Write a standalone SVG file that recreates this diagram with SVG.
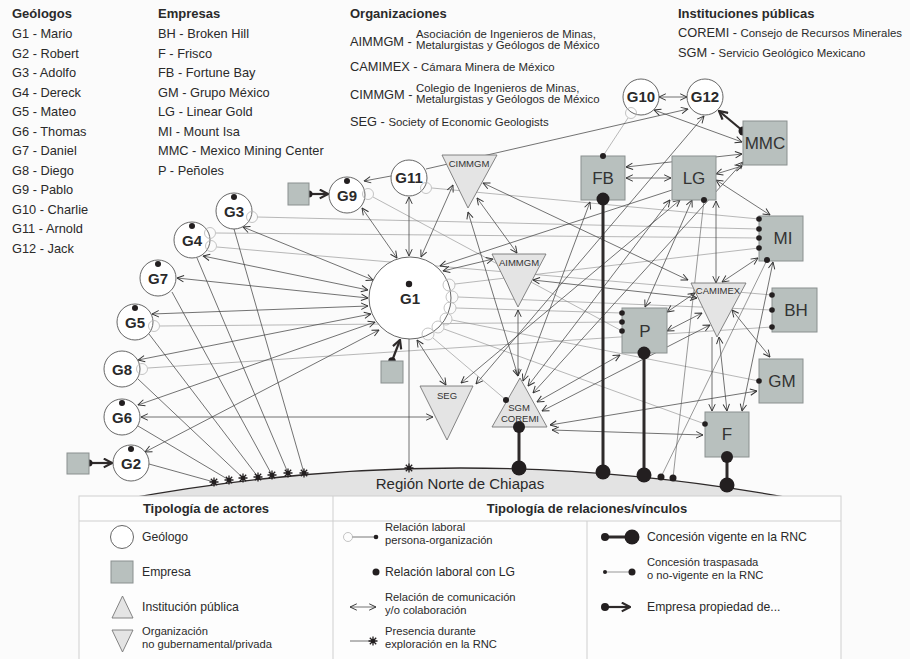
<svg xmlns="http://www.w3.org/2000/svg" width="910" height="659" viewBox="0 0 910 659">
<defs>
<style>
text{font-family:"Liberation Sans",Arial,sans-serif;fill:#2a2a2a}
.h{font-weight:bold;font-size:13px}
.li{font-size:12.8px}
.sm{font-size:11.4px}
.gc{fill:#fff;stroke:#555;stroke-width:.9}
.gl{font-weight:bold;font-size:15px;text-anchor:middle}
.co{fill:#b8c0be;stroke:#8a908f;stroke-width:1}
.cl{font-size:17px;text-anchor:middle;fill:#333}
.tr{fill:#e4e4e4;stroke:#777;stroke-width:.9}
.tl{font-size:9.5px;text-anchor:middle;fill:#333}
.d{fill:#231f20}
.e{fill:none;stroke:#b5b5b5;stroke-width:.8}
.c{stroke:#444;stroke-width:.75;fill:none;marker-start:url(#a);marker-end:url(#a)}
.c1{stroke:#444;stroke-width:.75;fill:none;marker-end:url(#a)}
.c0{stroke:#444;stroke-width:.75;fill:none;marker-start:url(#a)}
.w{stroke:#8a8a8a;stroke-width:.6;fill:none}
.s{stroke:#444;stroke-width:.75;fill:none}
.t{stroke:#2e2a2a;stroke-width:3;fill:none}
.tn{stroke:#555;stroke-width:.6;fill:none}
.o{stroke:#2e2a2a;stroke-width:2.2;fill:none;marker-end:url(#b)}
.lg{font-size:12.2px}
.l2{font-size:11.2px}
</style>
<marker id="a" viewBox="0 0 10 10" refX="9.5" refY="5" markerWidth="8" markerHeight="8" markerUnits="userSpaceOnUse" orient="auto-start-reverse"><path d="M1,1 L9.5,5 L1,9" fill="none" stroke="#333" stroke-width="1.2"/></marker>
<marker id="b" viewBox="0 0 10 10" refX="9" refY="5" markerWidth="11" markerHeight="11" markerUnits="userSpaceOnUse" orient="auto"><path d="M1.5,1 L9,5 L1.5,9" fill="none" stroke="#2e2a2a" stroke-width="2"/></marker>
<g id="star"><path d="M-4.5,0H4.5M0,-4.5V4.5M-3.2,-3.2L3.2,3.2M-3.2,3.2L3.2,-3.2" stroke="#231f20" stroke-width="1.3"/><circle r="2.2" fill="#231f20"/></g>
</defs>
<rect width="910" height="659" fill="#fbfbfb"/>

<g id="header">
<text class="h" x="12" y="18">Geólogos</text>
<text class="li" x="12" y="38">G1 - Mario</text>
<text class="li" x="12" y="57.5">G2 - Robert</text>
<text class="li" x="12" y="77">G3 - Adolfo</text>
<text class="li" x="12" y="96.5">G4 - Dereck</text>
<text class="li" x="12" y="116">G5 - Mateo</text>
<text class="li" x="12" y="135.5">G6 - Thomas</text>
<text class="li" x="12" y="155">G7 - Daniel</text>
<text class="li" x="12" y="174.5">G8 - Diego</text>
<text class="li" x="12" y="194">G9 - Pablo</text>
<text class="li" x="12" y="213.5">G10 - Charlie</text>
<text class="li" x="12" y="233">G11 - Arnold</text>
<text class="li" x="12" y="252.5">G12 - Jack</text>
<text class="h" x="158" y="18">Empresas</text>
<text class="li" x="158" y="38">BH - Broken Hill</text>
<text class="li" x="158" y="57.5">F - Frisco</text>
<text class="li" x="158" y="77">FB - Fortune Bay</text>
<text class="li" x="158" y="96.5">GM - Grupo México</text>
<text class="li" x="158" y="116">LG - Linear Gold</text>
<text class="li" x="158" y="135.5">MI - Mount Isa</text>
<text class="li" x="158" y="155">MMC - Mexico Mining Center</text>
<text class="li" x="158" y="174.5">P - Peñoles</text>
<text class="h" x="350" y="18">Organizaciones</text>
<text class="li" x="350" y="46">AIMMGM -</text>
<text class="sm" x="416" y="38">Asociación de Ingenieros de Minas,</text>
<text class="sm" x="416" y="49">Metalurgistas y Geólogos de México</text>
<text class="li" x="350" y="71">CAMIMEX - <tspan class="sm">Cámara Minera de México</tspan></text>
<text class="li" x="350" y="99">CIMMGM -</text>
<text class="sm" x="416" y="92">Colegio de Ingenieros de Minas,</text>
<text class="sm" x="416" y="103">Metalurgistas y Geólogos de México</text>
<text class="li" x="350" y="126">SEG - <tspan class="sm">Society of Economic Geologists</tspan></text>
<text class="h" x="678" y="18">Instituciones públicas</text>
<text class="li" x="678" y="37">COREMI - <tspan class="sm">Consejo de Recursos Minerales</tspan></text>
<text class="li" x="678" y="57">SGM - <tspan class="sm">Servicio Geológico Mexicano</tspan></text>
</g>

<g id="region">
<path d="M120,500 Q455,437 790,498 L790,500 Z" fill="#e3e3e3"/>
<path d="M120,500 Q455,437 790,498" fill="none" stroke="#2e2a2a" stroke-width="1.3"/>
<text x="460" y="489" font-size="15" text-anchor="middle" fill="#333">Región Norte de Chiapas</text>
</g>

<g id="connectors">
<line class="w" x1="257" y1="217" x2="759" y2="229"/>
<line class="w" x1="216" y1="233" x2="759" y2="238"/>
<line class="w" x1="217" y1="247" x2="772" y2="295"/>
<line class="w" x1="160" y1="326" x2="622" y2="322"/>
<line class="w" x1="148" y1="368" x2="772" y2="327"/>
<line class="w" x1="373" y1="197" x2="622" y2="331"/>
<line class="w" x1="432" y1="188" x2="759" y2="219"/>
<line class="w" x1="628" y1="118" x2="603" y2="156"/>
<line class="w" x1="455" y1="284" x2="759" y2="248"/>
<line class="w" x1="458" y1="297" x2="772" y2="310"/>
<line class="w" x1="456" y1="308" x2="622" y2="313"/>
<line class="w" x1="452" y1="320" x2="759" y2="381"/>
<line class="w" x1="444" y1="329" x2="705" y2="424"/>
<line class="w" x1="433" y1="338" x2="506" y2="400"/>
<line class="s" x1="234" y1="229" x2="304" y2="473"/>
<line class="s" x1="197" y1="258" x2="288" y2="473"/>
<line class="s" x1="172" y1="292" x2="272" y2="475"/>
<line class="s" x1="149" y1="334" x2="258" y2="477"/>
<line class="s" x1="138" y1="379" x2="243" y2="478"/>
<line class="s" x1="138" y1="426" x2="229" y2="480"/>
<line class="s" x1="149" y1="464" x2="214" y2="482"/>
<line class="s" x1="409" y1="339" x2="409" y2="468"/>
<line class="c" x1="243" y1="227" x2="373" y2="280"/>
<line class="c" x1="203" y1="256" x2="368" y2="290"/>
<line class="c" x1="177" y1="278" x2="368" y2="298"/>
<line class="c" x1="152" y1="314" x2="368" y2="306"/>
<line class="c" x1="138" y1="360" x2="371" y2="314"/>
<line class="c" x1="138" y1="405" x2="375" y2="322"/>
<line class="c" x1="145" y1="452" x2="379" y2="330"/>
<line class="c" x1="141" y1="417" x2="433" y2="417"/>
<line class="c" x1="362" y1="208" x2="397" y2="258"/>
<line class="c" x1="409" y1="197" x2="409" y2="256"/>
<line class="c" x1="421" y1="257" x2="453" y2="185"/>
<line class="c1" x1="391" y1="176" x2="364" y2="181"/>
<line class="c1" x1="426" y1="169" x2="688" y2="109"/>
<line class="c" x1="659" y1="97" x2="687" y2="97"/>
<line class="c" x1="654" y1="110" x2="742" y2="142"/>
<line class="c" x1="626" y1="167" x2="742" y2="154"/>
<line class="c" x1="716" y1="174" x2="742" y2="166"/>
<line class="c" x1="626" y1="178" x2="671" y2="178"/>
<line class="c" x1="716" y1="180" x2="770" y2="215"/>
<line class="c" x1="704" y1="116" x2="476" y2="384"/>
<line class="c" x1="477" y1="198" x2="517" y2="253"/>
<line class="c" x1="468" y1="212" x2="518" y2="376"/>
<line class="c" x1="483" y1="183" x2="688" y2="280"/>
<line class="c" x1="443" y1="271" x2="493" y2="259"/>
<line class="c0" x1="440" y1="266" x2="672" y2="190"/>
<line class="c" x1="518" y1="310" x2="518" y2="376"/>
<line class="c" x1="533" y1="280" x2="697" y2="298"/>
<line class="c" x1="417" y1="340" x2="446" y2="385"/>
<line class="c" x1="590" y1="202" x2="523" y2="381"/>
<line class="c" x1="670" y1="200" x2="528" y2="386"/>
<line class="c" x1="680" y1="200" x2="461" y2="383"/>
<line class="c" x1="692" y1="200" x2="645" y2="307"/>
<line class="c" x1="716" y1="201" x2="716" y2="283"/>
<line class="c" x1="537" y1="402" x2="620" y2="355"/>
<line class="c" x1="542" y1="411" x2="710" y2="325"/>
<line class="c" x1="550" y1="425" x2="757" y2="391"/>
<line class="c" x1="552" y1="430" x2="703" y2="435"/>
<line class="c" x1="533" y1="393" x2="743" y2="162"/>
<line class="c" x1="667" y1="331" x2="702" y2="313"/>
<line class="c" x1="667" y1="312" x2="695" y2="293"/>
<line class="c" x1="722" y1="282" x2="758" y2="258"/>
<line class="c" x1="732" y1="310" x2="770" y2="357"/>
<line class="c1" x1="712" y1="337" x2="712" y2="411"/>
<line class="c" x1="719" y1="337" x2="727" y2="411"/>
<line class="c" x1="773" y1="262" x2="742" y2="411"/>
<line class="tn" x1="704" y1="200" x2="673" y2="478"/>
<line class="tn" x1="767" y1="260" x2="661" y2="477"/>
<circle class="d" cx="673" cy="478" r="3.5"/>
<circle class="d" cx="661" cy="477" r="3.5"/>
<line class="t" x1="603" y1="199" x2="603" y2="472"/>
<line class="t" x1="644" y1="353" x2="644" y2="475"/>
<line class="t" x1="519" y1="427" x2="519" y2="468"/>
<line class="t" x1="727" y1="457" x2="727" y2="485"/>
<circle class="d" cx="603" cy="472" r="7.5"/>
<circle class="d" cx="644" cy="475" r="7.5"/>
<circle class="d" cx="519" cy="468" r="7.5"/>
<circle class="d" cx="727" cy="485" r="7.5"/>
<line class="o" x1="309" y1="194" x2="328" y2="194"/>
<line class="o" x1="89" y1="463" x2="112" y2="463"/>
<line class="o" x1="392" y1="361" x2="400" y2="340"/>
<line class="o" x1="743" y1="131" x2="719" y2="111"/>
<circle class="d" cx="309" cy="194" r="3.5"/>
<circle class="d" cx="89" cy="463" r="3.5"/>
<circle class="d" cx="392" cy="361" r="3.8"/>
<circle class="d" cx="743" cy="131" r="4.5"/>
<use href="#star" x="214" y="482"/>
<use href="#star" x="229" y="480"/>
<use href="#star" x="243" y="478"/>
<use href="#star" x="258" y="477"/>
<use href="#star" x="272" y="475"/>
<use href="#star" x="288" y="473"/>
<use href="#star" x="304" y="473"/>
<use href="#star" x="409" y="468"/>
</g>

<g id="G1"><circle class="gc" cx="410" cy="298" r="41"/><circle class="d" cx="409" cy="284" r="3.2"/><text class="gl" x="410" y="304" font-size="16">G1</text>
<circle class="e" cx="449" cy="285" r="6"/><circle class="e" cx="452" cy="297" r="6"/><circle class="e" cx="450" cy="308" r="6"/><circle class="e" cx="446" cy="319" r="6"/><circle class="e" cx="438" cy="327" r="6"/><circle class="e" cx="428" cy="334" r="6"/></g>
<g id="G2"><circle class="gc" cx="131" cy="463" r="18"/><circle class="d" cx="131" cy="449" r="3"/><text class="gl" x="131" y="469">G2</text></g>
<g id="G3"><circle class="gc" cx="234" cy="211" r="18"/><circle class="d" cx="234" cy="197" r="3"/><text class="gl" x="234" y="217">G3</text><circle class="e" cx="252" cy="217" r="5.5"/></g>
<g id="G4"><circle class="gc" cx="192" cy="240" r="18"/><circle class="d" cx="192" cy="226" r="3"/><text class="gl" x="192" y="246">G4</text><circle class="e" cx="210" cy="233" r="5.5"/><circle class="e" cx="211" cy="246" r="5.5"/></g>
<g id="G5"><circle class="gc" cx="135" cy="322" r="18"/><circle class="d" cx="135" cy="308" r="3"/><text class="gl" x="135" y="328">G5</text><circle class="e" cx="154" cy="326" r="5.5"/></g>
<g id="G6"><circle class="gc" cx="122" cy="417" r="18"/><circle class="d" cx="122" cy="403" r="3"/><text class="gl" x="122" y="423">G6</text></g>
<g id="G7"><circle class="gc" cx="158" cy="278" r="18"/><circle class="d" cx="158" cy="264" r="3"/><text class="gl" x="158" y="284">G7</text></g>
<g id="G8"><circle class="gc" cx="122" cy="369" r="18"/><text class="gl" x="122" y="375">G8</text><circle class="e" cx="142" cy="369" r="5.5"/></g>
<g id="G9"><circle class="gc" cx="347" cy="195" r="18"/><circle class="d" cx="347" cy="181" r="3"/><text class="gl" x="347" y="201">G9</text><circle class="e" cx="368" cy="194" r="5.5"/></g>
<g id="G10"><circle class="gc" cx="641" cy="97" r="18"/><text class="gl" x="641" y="102">G10</text><circle class="e" cx="631" cy="113" r="5.5"/></g>
<g id="G11"><circle class="gc" cx="409" cy="178" r="18"/><text class="gl" x="409" y="183">G11</text><circle class="e" cx="426" cy="188" r="5.5"/></g>
<g id="G12"><circle class="gc" cx="705" cy="97" r="18"/><text class="gl" x="705" y="102">G12</text></g>

<g id="MMC"><rect class="co" x="743" y="121" width="44" height="44"/><text class="cl" x="765" y="149" font-size="16">MMC</text></g>
<g id="FB"><rect class="co" x="581" y="156" width="44" height="44"/><text class="cl" x="603" y="184">FB</text><circle class="d" cx="603" cy="156" r="3"/><circle class="d" cx="603" cy="199" r="6.5"/></g>
<g id="LG"><rect class="co" x="672" y="156" width="44" height="44"/><text class="cl" x="694" y="184">LG</text><circle class="d" cx="704" cy="200" r="3"/></g>
<g id="MI"><rect class="co" x="759" y="216" width="44" height="45"/><text class="cl" x="783" y="244">MI</text><circle class="d" cx="759" cy="219" r="2.8"/><circle class="d" cx="759" cy="229" r="2.8"/><circle class="d" cx="759" cy="238" r="2.8"/><circle class="d" cx="759" cy="248" r="2.8"/><circle class="d" cx="767" cy="260" r="3"/></g>
<g id="BH"><rect class="co" x="772" y="288" width="45" height="44"/><text class="cl" x="796" y="316">BH</text><circle class="d" cx="772" cy="295" r="2.8"/><circle class="d" cx="772" cy="310" r="2.8"/><circle class="d" cx="772" cy="327" r="2.8"/></g>
<g id="GM"><rect class="co" x="759" y="359" width="44" height="44"/><text class="cl" x="782" y="387">GM</text><circle class="d" cx="759" cy="381" r="2.8"/></g>
<g id="F"><rect class="co" x="705" y="412" width="44" height="45"/><text class="cl" x="727" y="440">F</text><circle class="d" cx="705" cy="424" r="2.8"/><circle class="d" cx="727" cy="457" r="6"/></g>
<g id="P"><rect class="co" x="622" y="308" width="45" height="45"/><text class="cl" x="645" y="337">P</text><circle class="d" cx="622" cy="313" r="2.8"/><circle class="d" cx="622" cy="322" r="2.8"/><circle class="d" cx="622" cy="331" r="2.8"/><circle class="d" cx="644" cy="353" r="6.5"/></g>
<g id="CIMMGM"><polygon class="tr" points="442,155 497,155 468,208"/><text class="tl" x="469" y="167">CIMMGM</text></g>
<g id="AIMMGM"><polygon class="tr" points="492,254 546,254 518,307"/><text class="tl" x="519" y="266">AIMMGM</text></g>
<g id="SEG"><polygon class="tr" points="420,386 473,386 447,440"/><text class="tl" x="447" y="399" font-size="10.3">SEG</text></g>
<g id="CAMIMEX"><polygon class="tr" points="691,283 746,283 717,337"/><text class="tl" x="718" y="294" font-size="9">CAMIMEX</text></g>
<g id="SGM-COREMI"><polygon class="tr" points="492,427 547,427 520,378"/><text class="tl" x="519" y="411" font-size="10.2">SGM</text><text class="tl" x="520" y="422" font-size="10">COREMI</text><circle class="d" cx="506" cy="400" r="3"/><circle class="d" cx="519" cy="427" r="6"/></g>
<g id="sq-G9"><rect class="co" x="288" y="183" width="21" height="22"/></g>
<g id="sq-G2"><rect class="co" x="67" y="453" width="22" height="21"/></g>
<g id="sq-G1"><rect class="co" x="381" y="361" width="22" height="22"/></g>

<g id="legend">
<rect x="79" y="496" width="762" height="175" fill="#fdfdfd" stroke="#cfcfcf" stroke-width="1"/>
<line x1="79" y1="521" x2="841" y2="521" stroke="#cfcfcf"/>
<line x1="333" y1="496" x2="333" y2="659" stroke="#cfcfcf"/>
<line x1="587" y1="521" x2="587" y2="659" stroke="#cfcfcf"/>
<text class="h" x="206" y="513" text-anchor="middle">Tipología de actores</text>
<text class="h" x="587" y="513" text-anchor="middle">Tipología de relaciones/vínculos</text>
<circle class="gc" cx="122" cy="537" r="11.5"/>
<text class="lg" x="142" y="541">Geólogo</text>
<rect class="co" x="111" y="561" width="22" height="22"/>
<text class="lg" x="142" y="576">Empresa</text>
<polygon class="tr" points="112,618 133,618 122.5,596"/>
<text class="lg" x="142" y="611">Institución pública</text>
<polygon class="tr" points="112,630 133,630 122.5,652"/>
<text class="l2" x="142" y="635">Organización</text>
<text class="l2" x="142" y="648">no gubernamental/privada</text>
<circle class="e" cx="348" cy="537" r="4.5"/>
<line x1="352.5" y1="537" x2="376" y2="537" stroke="#555" stroke-width=".8"/>
<circle class="d" cx="376" cy="537" r="2.3"/>
<text class="l2" x="385" y="531">Relación laboral</text>
<text class="l2" x="385" y="544">persona-organización</text>
<circle class="d" cx="376" cy="572" r="3.5"/>
<text class="lg" x="385" y="576">Relación laboral con LG</text>
<line class="c" x1="350" y1="607" x2="376" y2="607"/>
<text class="l2" x="385" y="601">Relación de comunicación</text>
<text class="l2" x="385" y="614">y/o colaboración</text>
<line class="s" x1="350" y1="641" x2="373" y2="641"/>
<use href="#star" x="373" y="641"/>
<text class="l2" x="385" y="635">Presencia durante</text>
<text class="l2" x="385" y="648">exploración en la RNC</text>
<line class="t" x1="605" y1="537" x2="632" y2="537" stroke-width="2.5"/>
<circle class="d" cx="605" cy="537" r="4"/>
<circle class="d" cx="632" cy="537" r="7.5"/>
<text class="lg" x="647" y="541">Concesión vigente en la RNC</text>
<line class="tn" x1="605" y1="572" x2="632" y2="572"/>
<circle class="d" cx="605" cy="572" r="2"/>
<circle class="d" cx="632" cy="572" r="3.5"/>
<text class="l2" x="647" y="566">Concesión traspasada</text>
<text class="l2" x="647" y="579">o no-vigente en la RNC</text>
<line class="o" x1="605" y1="607" x2="630" y2="607"/>
<circle class="d" cx="605" cy="607" r="4"/>
<text class="lg" x="647" y="611">Empresa propiedad de...</text>
</g>
</svg>
